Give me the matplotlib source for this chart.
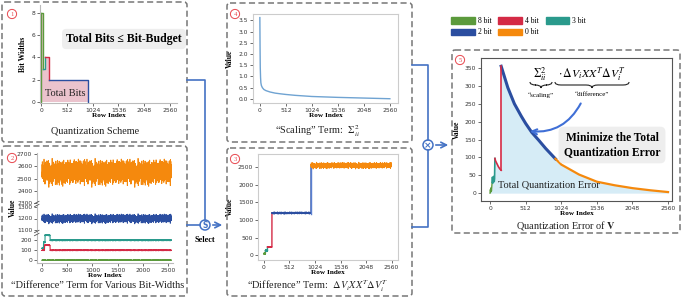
import numpy as np
import matplotlib
matplotlib.use('Agg')
import matplotlib.pyplot as plt
from matplotlib.patches import FancyBboxPatch, Circle, Patch, PathPatch
from matplotlib.path import Path

plt.rcParams['mathtext.fontset'] = 'stix'
SERIF = 'Liberation Serif'

# ---- data ----
bit_names = ['8 bit', '3 bit', '4 bit', '2 bit', '0 bit']
bit_levels = [8, 3, 4, 2, 0]
seg_edges = [0, 30, 70, 160, 940, 2560]   # row boundaries of each bit-width group
GREEN, RED, TEAL, BLUE, ORANGE = '#5b9a3c', '#d42a45', '#2a9a8c', '#2b4ea0', '#f5890d'
seg_colors = [GREEN, TEAL, RED, BLUE, ORANGE]

# hand-typed jitter patterns for the noisy "difference" terms (two co-prime lengths)
jitter_a = [0.35, -0.82, 0.56, 1.0, -0.21, -1.05, 0.72, 0.08, -0.47, 0.93, -0.88, 0.41,
            -0.29, 0.79, -0.63, 0.18, 1.12, -0.71, 0.6, -0.12, -0.95, 0.52, 0.02, -0.38,
            0.86, -1.2, 0.33, 0.66, -0.55, 0.14, -0.26, 0.97, -0.77, 0.45, -0.6, 0.25, -0.15]
jitter_b = [-0.4, 0.1, 0.55, -0.3, -0.7, 0.25, 0.8, -0.05, -0.5, 0.35, 0.0, -0.85,
            0.6, 0.2, -0.25, 0.45, -0.6, 0.9, -0.15, -0.35, 0.3, -1.1, 0.5]

# panel 2: difference term per bit-width over all rows
p2_orange = dict(edges=[0, 2560], levels=[2555], spread=[55])
p2_blue = dict(edges=[0, 2560], levels=[1200], spread=[20])
p2_teal = dict(edges=[0, 30, 60, 160, 2560], levels=[120, 180, 250, 200], spread=[3, 3, 2.5, 2.5])
p2_red = dict(edges=[0, 50, 160, 2560], levels=[100, 150, 100], spread=[1.5, 1.5, 1.5])
p2_green = dict(edges=[0, 2560], levels=[2], spread=[1])

# panel 3: selected difference term
p3_levels = [40, 130, 230, 1200, 2555]
p3_spread = [12, 14, 2, 16, 45]

# panel 4: scaling term
p4_rows = [0, 4, 8, 14, 20, 30, 50, 80, 120, 200, 300, 400, 512, 700, 1024, 1536, 2048, 2560]
p4_vals = [3.62, 2.3, 1.4, 0.95, 0.72, 0.6, 0.5, 0.42, 0.37, 0.31, 0.26, 0.23, 0.2,
           0.16, 0.11, 0.07, 0.04, 0.01]

# panel 5: quantization error per segment
p5_rows = [[0, 5, 10, 15, 20, 25, 30],
           [30, 35, 40, 45, 50, 55, 60, 65, 70],
           [70, 80, 100, 120, 140, 160],
           [160, 200, 256, 350, 450, 512, 600, 700, 800, 940],
           [940, 1024, 1280, 1536, 1792, 2048, 2304, 2560]]
p5_vals = [[0, 10, 3, 15, 6, 18, 30],
           [30, 45, 28, 42, 35, 47, 32, 40, 97],
           [97, 90, 82, 74, 68, 64],
           [355, 330, 295, 250, 215, 195, 170, 148, 125, 96],
           [96, 80, 52, 32, 22, 14, 8, 3]]


def band(edges, levels, spread):
    parts = []
    for a, b, lv, sp in zip(edges[:-1], edges[1:], levels, spread):
        idx = np.arange(a, b)
        n = (np.take(jitter_a, idx % len(jitter_a)) + np.take(jitter_b, idx % len(jitter_b))) * sp
        parts.append(lv + n)
    return np.concatenate(parts)


W, H = 682, 298
fig = plt.figure(figsize=(6.82, 2.98), dpi=100)


def ax_px(l, t, r, b):
    return fig.add_axes([l / W, 1 - b / H, (r - l) / W, (b - t) / H])


def style(ax, spines=('left', 'bottom'), color='#bbbbbb'):
    for s in ax.spines:
        ax.spines[s].set_visible(s in spines)
        ax.spines[s].set_color(color)
        ax.spines[s].set_linewidth(0.8)
    ax.tick_params(labelsize=4.3, length=2, width=0.5, pad=1.5, colors='#333333')
    ax.patch.set_alpha(0)


def lab(ax, x=True, y='Value'):
    if x:
        ax.set_xlabel('Row Index', family=SERIF, weight='bold', fontsize=5.2, labelpad=0.3)
    if y:
        ax.set_ylabel(y, family=SERIF, weight='bold', fontsize=5.5, labelpad=3)


xt = [0, 512, 1024, 1536, 2048, 2560]

# ---- panel 1: quantization scheme ----
ax1 = ax_px(40, 5, 177, 103)
style(ax1)
ax1.fill_between(seg_edges, bit_levels + [0], step='post', color='#ebc3cd', lw=0)
ax1.plot([0, 0], [0, bit_levels[0]], color=GREEN, lw=1)
for i in range(4):
    a, b = seg_edges[i], seg_edges[i + 1]
    nxt = bit_levels[i + 1]
    ax1.plot([a, b, b], [bit_levels[i], bit_levels[i], nxt], color=seg_colors[i], lw=1)
ax1.set_xlim(-20, 2698)
ax1.set_ylim(-0.09, 8.7)
ax1.set_xticks(xt)
ax1.set_yticks([0, 2, 4, 6, 8])
lab(ax1, y='Bit Widths')

# ---- panel 2: difference term, broken y-axis ----
rows = np.arange(2560)
ax2a = ax_px(37, 153, 173, 203)
ax2b = ax_px(37, 205, 173, 232)
ax2c = ax_px(37, 234, 173, 263)
style(ax2a, ('left',))
style(ax2b, ('left',))
style(ax2c)
ax2a.plot(rows, band(**p2_orange), color=ORANGE, lw=0.6)
ax2b.plot(rows, band(**p2_blue), color=BLUE, lw=0.6)
ax2c.plot(rows, band(**p2_teal), color=TEAL, lw=0.8)
ax2c.plot(rows, band(**p2_red), color=RED, lw=0.8)
ax2c.plot(rows, band(**p2_green), color=GREEN, lw=0.8)
for a in (ax2a, ax2b, ax2c):
    a.set_xlim(-99, 2595)
ax2a.set_ylim(2300, 2710)
ax2a.set_yticks([2300, 2400, 2500, 2600, 2700])
ax2b.set_ylim(1085, 1315)
ax2b.set_yticks([1100, 1200, 1300])
ax2c.set_ylim(-25, 262)
ax2c.set_yticks([0, 100, 200])
ax2a.set_xticks([])
ax2b.set_xticks([])
ax2c.set_xticks([0, 500, 1000, 1500, 2000, 2500])
lab(ax2c, y=None)

# ---- panel 4: scaling term ----
ax4 = ax_px(253, 14, 398, 103)
style(ax4, ('left', 'bottom', 'top', 'right'), '#cccccc')
ax4.plot(p4_rows, p4_vals, color='#6fa3d2', lw=1)
ax4.set_xlim(-135, 2720)
ax4.set_ylim(-0.18, 3.78)
ax4.set_xticks(xt)
ax4.set_yticks(np.arange(0, 3.6, 0.5))
lab(ax4)

# ---- panel 3: selected difference term ----
ax3 = ax_px(258, 154, 398, 260)
style(ax3, ('left', 'bottom', 'top', 'right'), '#cccccc')
p3 = band(seg_edges, p3_levels, p3_spread)
for i in range(5):
    a, b = seg_edges[i], min(seg_edges[i + 1] + 1, 2560)
    ax3.plot(np.arange(a, b), p3[a:b], color=seg_colors[i], lw=0.6 if i > 2 else 1)
    if i == 3:
        ax3.plot([b - 1, b - 1], [p3[b - 2], p3[b - 1]], color='#5a7fd0', lw=1)
ax3.set_xlim(-120, 2690)
ax3.set_ylim(-140, 2880)
ax3.set_xticks(xt)
ax3.set_yticks([0, 500, 1000, 1500, 2000, 2500])
lab(ax3)

# ---- panel 5: quantization error ----
ax5 = ax_px(481, 58, 672, 201)
style(ax5, ('left', 'bottom', 'top', 'right'), '#555555')
all_r = np.concatenate(p5_rows)
all_v = np.concatenate(p5_vals)
ax5.fill_between(all_r, all_v, color='#d6ecf6', lw=0)
widths = [1, 1.2, 1.2, 2.2, 1.6]
for i in range(5):
    ax5.plot(p5_rows[i], p5_vals[i], color=seg_colors[i], lw=widths[i])
ax5.plot([p5_rows[2][-1], p5_rows[3][0]], [p5_vals[2][-1], p5_vals[3][0]], color=RED, lw=1.2)
ax5.set_xlim(-130, 2617)
ax5.set_ylim(-22, 378)
ax5.set_xticks(xt)
ax5.set_yticks(np.arange(0, 351, 50))
lab(ax5)

# ---- overlay: boxes, connectors, labels ----
ov = fig.add_axes([0, 0, 1, 1])
ov.set_xlim(0, W)
ov.set_ylim(H, 0)
ov.axis('off')
ov.set_zorder(10)

for l, t, r, b in [(2, 2, 187, 142), (2, 146, 187, 296), (227, 3, 412, 142),
                   (227, 148, 412, 296), (452, 50, 680, 233)]:
    ov.add_patch(FancyBboxPatch((l, t), r - l, b - t, boxstyle='round,pad=0,rounding_size=3',
                                fill=False, ec='#777777', lw=1.1, ls=(0, (4, 2.2))))

for n, (x, y) in zip('12435', [(12, 14), (12, 158), (235, 14), (235, 159), (460, 60)]):
    ov.add_patch(Circle((x, y), 4.6, fill=False, ec='#e8484f', lw=0.7))
    ov.text(x, y + 0.3, n, color='#e8484f', fontsize=4.8, ha='center', va='center', family=SERIF)

ov.text(13, 208, 'Value', family=SERIF, weight='bold', fontsize=5.5, rotation=90,
        ha='center', va='center')

LC = '#4472c4'
ov.plot([187, 205, 205], [80, 80, 220], color=LC, lw=1.2)
ov.plot([187, 200], [225, 225], color=LC, lw=1.2)
ov.add_patch(Circle((205, 225), 5, fc='white', ec=LC, lw=1.1))
ov.text(205, 225.3, 'S', color=LC, fontsize=5.5, ha='center', va='center', weight='bold')
ov.annotate('', xy=(225, 225), xytext=(210, 225),
            arrowprops=dict(arrowstyle='->', color=LC, lw=1.2))
ov.text(205, 240, 'Select', family=SERIF, weight='bold', fontsize=6, ha='center', va='center')

ov.plot([412, 428, 428], [65, 65, 140], color=LC, lw=1.2)
ov.plot([412, 428, 428], [227, 227, 150], color=LC, lw=1.2)
ov.add_patch(Circle((428, 145), 5, fc='white', ec=LC, lw=1.1))
ov.text(428, 145.3, '×', color=LC, fontsize=6.5, ha='center', va='center', weight='bold')
ov.annotate('', xy=(451, 145), xytext=(433, 145),
            arrowprops=dict(arrowstyle='->', color=LC, lw=1.2))

# break marks for panel 2
for yb in (204, 233):
    for dy in (-1.5, 1.5):
        ov.plot([34.5, 39], [yb + dy + 1.2, yb + dy - 1.2], color='#555555', lw=0.6)

cap = dict(family=SERIF, fontsize=7.4, ha='center', va='center', color='#222222')
ov.text(95, 131, 'Quantization Scheme', **cap)
ov.text(98, 286, '“Difference” Term for Various Bit-Widths', **cap)
ov.text(318, 131, r'“Scaling” Term:  $\Sigma^2_{ii}$', **cap)
ov.text(318, 286, r'“Difference” Term:  $\Delta V_i X X^T \Delta V_i^T$', **cap)
ov.text(566, 225, r'Quantization Error of $\mathbf{V}$', **cap)

ov.text(124, 39, 'Total Bits ≤ Bit-Budget', family=SERIF, weight='bold', fontsize=8.5,
        ha='center', va='center',
        bbox=dict(boxstyle='round,pad=0.35', fc='#eeeeee', ec='none'))
ov.text(45, 93, 'Total Bits', family=SERIF, fontsize=7.5, ha='left', va='center', color='#222222')

ov.text(612, 145, 'Minimize the Total\nQuantization Error', family=SERIF, weight='bold',
        fontsize=8.3, ha='center', va='center', linespacing=1.25,
        bbox=dict(boxstyle='round,pad=0.45', fc='#eeeeee', ec='none'))
ov.text(498, 185, 'Total Quantization Error', family=SERIF, fontsize=7.5, ha='left',
        va='center', color='#222222')

ov.text(540, 74, r'$\Sigma^2_{ii}$', fontsize=8.5, ha='center', va='center')
ov.text(592, 74, r'$\cdot\,\Delta V_i X X^T \Delta V_i^T$', fontsize=8.5, ha='center', va='center')


def brace(x0, x1, y, h):
    m = (x0 + x1) / 2
    verts = [(x0, y), (x0, y + h / 2), (x0 + h, y + h / 2), (m - h, y + h / 2),
             (m, y + h / 2), (m, y + h), (m, y + h / 2), (m + h, y + h / 2),
             (x1 - h, y + h / 2), (x1, y + h / 2), (x1, y)]
    codes = [Path.MOVETO, Path.CURVE3, Path.CURVE3, Path.LINETO, Path.CURVE3, Path.CURVE3,
             Path.CURVE3, Path.CURVE3, Path.LINETO, Path.CURVE3, Path.CURVE3]
    ov.add_patch(PathPatch(Path(verts, codes), fill=False, lw=0.8, ec='#222222'))


brace(530, 552, 82, 6)
brace(555, 629, 82, 6)
ov.text(541, 95, '“scaling”', family=SERIF, fontsize=5, ha='center', va='center')
ov.text(592, 95, '“difference”', family=SERIF, fontsize=5, ha='center', va='center')
ov.annotate('', xy=(527, 131), xytext=(582, 101),
            arrowprops=dict(arrowstyle='->', color='#3f6fd6', lw=1.5,
                            connectionstyle='arc3,rad=-0.35', mutation_scale=9))

handles = [Patch(color=c) for c in [GREEN, BLUE, RED, ORANGE, TEAL]]
names = ['8 bit', '2 bit', '4 bit', '0 bit', '3 bit']
fig.legend(handles, names, loc='upper left', bbox_to_anchor=(451 / W, 1 - 17 / H),
           ncol=3, frameon=False, prop=dict(family=SERIF, size=5.5), handlelength=3.1,
           handleheight=0.9, handletextpad=0.4, columnspacing=0.9, labelspacing=0.45,
           borderpad=0, borderaxespad=0)

fig.savefig('out.png', dpi=100)
